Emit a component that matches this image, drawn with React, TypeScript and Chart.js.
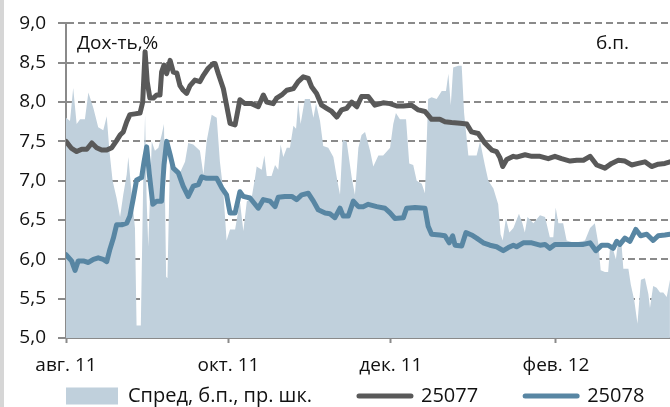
import { useEffect, useRef } from "react";
import { Chart, registerables } from "chart.js";

Chart.register(...registerables);

// x values are days counted from 01.08.2011
const monthTickDays = [0, 61, 122, 184];
const monthTickLabels = ["авг. 11", "окт. 11", "дек. 11", "фев. 12"];
const lastDataDay = 226.8;
const xAxisMaxDay = 245.6;

const seriesNames = ["Спред, б.п., пр. шк.", "25077", "25078"];
const leftAxisTitle = "Дох-ть,%";
const rightAxisTitle = "б.п.";

const yieldMin = 5;
const yieldMax = 9;
const yieldStep = 0.5;
const spreadMin = 0;
const spreadMax = 200;

const days25077 = [
  0.0, 2.1, 4.0, 5.9, 7.8, 9.7, 11.5, 13.4, 15.3, 17.2,
  19.0, 20.3, 21.5, 22.8, 24.0, 25.9, 27.8, 28.8, 29.7, 30.5,
  31.5, 32.8, 34.1, 35.3, 35.9, 36.8, 37.8, 39.1, 40.3, 41.6,
  42.8, 44.0, 45.3, 46.6, 48.4, 50.3, 51.6, 53.4, 55.3, 56.0,
  57.2, 59.1, 60.3, 61.6, 63.5, 65.3, 67.2, 69.7, 72.2, 74.1,
  75.4, 77.8, 79.1, 81.0, 82.9, 85.4, 87.2, 89.1, 91.0, 92.3,
  94.1, 96.0, 97.9, 99.8, 101.7, 103.5, 105.4, 107.3, 109.2, 111.0,
  113.5, 116.0, 119.1, 121.7, 124.2, 126.7, 129.8, 132.3, 134.8, 137.3,
  140.4, 142.3, 144.8, 148.0, 150.5, 152.3, 154.8, 157.3, 159.9, 161.7,
  163.0, 164.0, 165.5, 168.0, 169.2, 172.4, 174.9, 178.0, 181.1, 183.6,
  186.1, 189.3, 191.8, 194.3, 196.8, 199.3, 202.4, 204.9, 207.4, 209.9,
  212.4, 214.9, 217.4, 219.9, 222.4, 224.9, 226.8,
];
const yield25077 = [
  7.50, 7.41, 7.37, 7.40, 7.40, 7.48, 7.42, 7.39, 7.39, 7.42,
  7.51, 7.58, 7.62, 7.75, 7.84, 7.85, 7.86, 8.00, 8.64, 8.26,
  8.05, 8.05, 8.09, 8.09, 8.38, 8.47, 8.36, 8.53, 8.38, 8.37,
  8.21, 8.15, 8.11, 8.21, 8.28, 8.26, 8.34, 8.43, 8.49, 8.49,
  8.36, 8.17, 7.96, 7.73, 7.71, 8.03, 7.98, 7.98, 7.94, 8.09,
  8.00, 7.98, 8.05, 8.09, 8.15, 8.17, 8.26, 8.32, 8.30, 8.19,
  8.11, 7.96, 7.92, 7.88, 7.81, 7.90, 7.92, 8.00, 7.94, 8.07,
  8.07, 7.96, 7.99, 7.98, 7.95, 7.95, 7.96, 7.90, 7.88, 7.78,
  7.78, 7.75, 7.74, 7.73, 7.72, 7.62, 7.60, 7.48, 7.39, 7.37,
  7.29, 7.18, 7.27, 7.31, 7.30, 7.33, 7.31, 7.31, 7.28, 7.31,
  7.28, 7.25, 7.26, 7.26, 7.31, 7.20, 7.16, 7.22, 7.26, 7.25,
  7.20, 7.22, 7.24, 7.18, 7.21, 7.22, 7.24,
];

const days25078 = [
  0.0, 2.1, 3.4, 4.6, 6.5, 8.4, 10.3, 12.1, 14.0, 15.3,
  16.5, 17.8, 19.0, 20.9, 22.8, 24.0, 25.3, 26.5, 28.4, 29.3,
  30.3, 31.3, 32.6, 34.1, 35.9, 36.8, 37.8, 39.1, 40.3, 42.2,
  44.0, 45.9, 47.8, 49.7, 51.0, 52.8, 55.3, 56.6, 58.5, 60.3,
  61.6, 63.5, 65.3, 66.6, 69.1, 72.2, 74.1, 76.6, 78.5, 79.7,
  82.2, 84.8, 86.6, 88.5, 91.0, 92.9, 94.7, 97.3, 99.1, 101.0,
  102.9, 104.1, 106.0, 107.9, 109.8, 111.6, 113.5, 116.7, 119.8, 121.7,
  123.5, 126.7, 127.9, 131.1, 134.8, 136.0, 137.3, 140.4, 142.3, 143.9,
  145.2, 146.1, 148.6, 150.2, 152.3, 154.2, 156.7, 159.2, 161.7, 164.2,
  166.1, 168.0, 169.2, 171.7, 174.9, 178.0, 179.9, 181.7, 183.6, 186.7,
  190.5, 194.3, 196.8, 199.0, 201.2, 203.5, 205.5, 206.8, 208.0, 209.9,
  211.8, 214.0, 215.8, 218.1, 220.5, 222.4, 224.9, 226.8,
];
const yield25078 = [
  6.06, 5.98, 5.86, 5.98, 5.98, 5.96, 6.00, 6.02, 6.00, 5.97,
  6.13, 6.27, 6.44, 6.44, 6.46, 6.55, 6.78, 7.01, 7.04, 7.24,
  7.43, 7.08, 6.70, 6.74, 6.74, 7.20, 7.50, 7.33, 7.16, 7.10,
  6.93, 6.80, 6.93, 6.95, 7.05, 7.03, 7.03, 7.03, 6.91, 6.82,
  6.59, 6.59, 6.86, 6.80, 6.78, 6.65, 6.76, 6.74, 6.67, 6.79,
  6.80, 6.80, 6.76, 6.82, 6.84, 6.74, 6.63, 6.59, 6.58, 6.53,
  6.65, 6.55, 6.55, 6.74, 6.67, 6.67, 6.70, 6.67, 6.65, 6.59,
  6.52, 6.53, 6.65, 6.66, 6.65, 6.42, 6.32, 6.31, 6.30, 6.21,
  6.30, 6.18, 6.17, 6.34, 6.31, 6.27, 6.21, 6.18, 6.16, 6.11,
  6.15, 6.18, 6.16, 6.21, 6.21, 6.18, 6.19, 6.14, 6.19, 6.19,
  6.19, 6.19, 6.21, 6.11, 6.18, 6.18, 6.14, 6.23, 6.19, 6.27,
  6.23, 6.38, 6.30, 6.32, 6.24, 6.30, 6.31, 6.32,
];

const daysSpread = [
  0.0, 1.5, 2.7, 4.0, 5.3, 7.1, 8.4, 10.3, 12.1, 14.0,
  15.3, 16.3, 17.5, 19.0, 20.3, 21.5, 22.8, 23.4, 24.7, 25.9,
  26.5, 28.1, 29.0, 29.7, 30.3, 30.9, 32.2, 33.4, 34.7, 35.9,
  36.8, 37.6, 38.1, 39.1, 40.9, 42.8, 44.7, 45.9, 47.8, 50.3,
  51.6, 52.8, 54.7, 56.6, 57.8, 59.1, 60.3, 61.6, 63.5, 65.3,
  66.6, 67.9, 69.7, 71.0, 71.6, 73.5, 74.5, 75.4, 77.2, 78.5,
  79.7, 80.6, 81.6, 82.9, 84.1, 85.4, 86.4, 87.2, 88.1, 89.7,
  91.6, 92.9, 93.9, 95.4, 96.6, 98.5, 100.4, 101.9, 102.9, 103.9,
  105.4, 107.3, 108.5, 109.8, 111.0, 112.3, 114.2, 115.4, 117.3, 119.1,
  121.7, 122.9, 123.9, 125.4, 127.7, 128.9, 130.4, 131.7, 133.6, 134.8,
  136.0, 137.3, 139.2, 141.1, 142.7, 143.6, 144.5, 145.4, 147.3, 148.6,
  149.5, 151.1, 153.0, 154.2, 155.5, 157.3, 158.6, 160.5, 162.3, 163.2,
  164.0, 165.2, 166.5, 168.0, 170.1, 171.4, 172.3, 173.3, 175.5, 178.0,
  179.9, 181.7, 183.0, 183.9, 184.9, 186.7, 188.0, 189.9, 192.4, 194.9,
  196.8, 198.6, 199.9, 200.8, 202.4, 203.6, 204.3, 205.5, 206.5, 207.4,
  208.7, 209.3, 211.2, 212.1, 213.4, 214.6, 215.9, 217.4, 218.7, 219.3,
  220.5, 221.8, 223.1, 224.3, 225.6, 226.8,
];
const spreadBp = [
  140, 138, 159, 136, 139, 139, 156, 146, 134, 132,
  141, 119, 100, 89, 77, 91, 104, 115, 91, 70,
  8, 8, 100, 142, 87, 58, 125, 119, 121, 129,
  136, 39, 38, 117, 108, 105, 112, 124, 123, 119,
  104, 125, 142, 140, 112, 93, 62, 69, 69, 87,
  68, 87, 89, 102, 109, 107, 116, 103, 103, 110,
  107, 123, 115, 121, 121, 135, 133, 150, 136, 152,
  152, 140, 149, 138, 122, 121, 115, 100, 91, 126,
  125, 102, 91, 121, 129, 131, 119, 109, 116, 116,
  121, 136, 143, 139, 139, 111, 110, 100, 98, 92,
  152, 153, 152, 157, 157, 168, 148, 172, 173, 173,
  143, 116, 116, 116, 125, 110, 100, 95, 85, 66,
  62, 76, 67, 70, 79, 73, 67, 77, 73, 78,
  77, 64, 64, 83, 73, 73, 62, 61, 61, 62,
  70, 73, 60, 43, 42, 42, 58, 56, 50, 62,
  58, 44, 44, 34, 24, 9, 37, 38, 28, 19,
  33, 32, 29, 29, 26, 37,
];

const toPoints = (xs: number[], ys: number[]) => xs.map((x, i) => ({ x, y: ys[i] }));

const FONT = "Open Sans";
const TEXT_COLOR = "#111111";
const AXIS_GREY = "#8a8a8a";
const SPREAD_FILL = "#c0d0dc";
const LINE_DARK = "#595959";
const LINE_BLUE = "#5886a3";

// the canvas is wider/taller than the 670x407 window; the overflow is cropped
const CANVAS_W = 720;
const CANVAS_H = 455;

const titlesPlugin = {
  id: "insideTitles",
  afterDatasetsDraw(chart: any) {
    const { ctx, chartArea } = chart;
    const endX = chart.scales.x.getPixelForValue(lastDataDay);
    ctx.save();
    ctx.font = `19px "${FONT}"`;
    ctx.fillStyle = TEXT_COLOR;
    ctx.textAlign = "left";
    ctx.textBaseline = "alphabetic";
    ctx.fillText(leftAxisTitle, chartArea.left + 11, chartArea.top + 26);
    ctx.fillText(rightAxisTitle, endX - 74, chartArea.top + 26);
    ctx.restore();
  },
};

// pulls the legend row up so it sits right under the month labels
const legendPlacePlugin = {
  id: "legendPlace",
  afterLayout(chart: any) {
    const lg = chart.legend;
    const xs = chart.scales.x;
    if (lg && xs) lg.top = xs.top + 1;
  },
};

export default function App() {
  const canvasRef = useRef<HTMLCanvasElement | null>(null);

  useEffect(() => {
    document.body.style.margin = "0";
    document.body.style.overflow = "hidden";
    document.documentElement.style.overflow = "hidden";
    const canvas = canvasRef.current;
    if (!canvas) return;
    Chart.defaults.font.family = FONT;

    const chart = new Chart(canvas, {
      type: "line",
      data: {
        datasets: [
          {
            label: seriesNames[0],
            data: toPoints(daysSpread, spreadBp),
            yAxisID: "y2",
            fill: "origin",
            backgroundColor: SPREAD_FILL,
            borderColor: "rgba(0,0,0,0)",
            borderWidth: 0,
            pointRadius: 0,
            pointStyle: "rect",
            pointBackgroundColor: SPREAD_FILL,
            pointBorderWidth: 0,
            tension: 0,
            order: 3,
          },
          {
            label: seriesNames[1],
            data: toPoints(days25077, yield25077),
            yAxisID: "y",
            fill: false,
            borderColor: LINE_DARK,
            backgroundColor: LINE_DARK,
            borderWidth: 5,
            borderJoinStyle: "round",
            borderCapStyle: "round",
            pointRadius: 0,
            pointStyle: "line",
            pointBorderColor: LINE_DARK,
            pointBorderWidth: 5,
            tension: 0,
            order: 2,
          },
          {
            label: seriesNames[2],
            data: toPoints(days25078, yield25078),
            yAxisID: "y",
            fill: false,
            borderColor: LINE_BLUE,
            backgroundColor: LINE_BLUE,
            borderWidth: 5,
            borderJoinStyle: "round",
            borderCapStyle: "round",
            pointRadius: 0,
            pointStyle: "line",
            pointBorderColor: LINE_BLUE,
            pointBorderWidth: 5,
            tension: 0,
            order: 1,
          },
        ] as any,
      },
      options: {
        animation: false,
        responsive: false,
        maintainAspectRatio: false,
        events: [],
        layout: { padding: { top: 21, left: 19, right: 0, bottom: 0 } },
        scales: {
          x: {
            type: "linear",
            min: 0,
            max: xAxisMaxDay,
            afterBuildTicks: (scale: any) => {
              scale.ticks = monthTickDays.map((value) => ({ value }));
            },
            afterFit: (scale: any) => {
              scale.height = 40;
            },
            ticks: {
              autoSkip: false,
              maxRotation: 0,
              padding: 11,
              color: TEXT_COLOR,
              font: { family: FONT, size: 19 },
              callback: (v: any) => {
                const i = monthTickDays.indexOf(Number(v));
                return i >= 0 ? monthTickLabels[i] : "";
              },
            },
            grid: {
              drawOnChartArea: false,
              tickLength: 5,
              tickColor: AXIS_GREY,
              tickWidth: 2,
            },
            border: { color: AXIS_GREY, width: 2 },
          },
          y: {
            position: "left",
            min: yieldMin,
            max: yieldMax,
            afterFit: (scale: any) => {
              scale.width = 47;
            },
            ticks: {
              stepSize: yieldStep,
              padding: 12,
              color: TEXT_COLOR,
              font: { family: FONT, size: 19 },
              callback: (v: any) => Number(v).toFixed(1).replace(".", ","),
            },
            grid: {
              color: AXIS_GREY,
              lineWidth: 2,
              tickLength: 8,
              tickColor: AXIS_GREY,
              tickWidth: 2,
              tickBorderDash: [],
            } as any,
            border: { color: AXIS_GREY, width: 2, dash: [7, 4] },
          },
          y2: {
            display: false,
            position: "right",
            min: spreadMin,
            max: spreadMax,
          },
        },
        plugins: {
          tooltip: { enabled: false },
          legend: {
            position: "bottom",
            align: "start",
            labels: {
              usePointStyle: true,
              pointStyleWidth: 52,
              boxHeight: 17,
              padding: 47,
              color: TEXT_COLOR,
              font: { family: FONT, size: 20 },
              sort: (a: any, b: any) => a.datasetIndex - b.datasetIndex,
              generateLabels: (c: any) =>
                (Chart.defaults.plugins.legend.labels as any)
                  .generateLabels(c)
                  .map((l: any) => ({
                    ...l,
                    lineCap: l.pointStyle === "line" ? "round" : "butt",
                  })),
            },
          },
        },
      } as any,
      plugins: [titlesPlugin, legendPlacePlugin],
    });
    return () => chart.destroy();
  }, []);

  return (
    <div style={{ position: "relative", width: CANVAS_W, height: CANVAS_H, background: "#ffffff" }}>
      <canvas ref={canvasRef} width={CANVAS_W} height={CANVAS_H} style={{ display: "block" }} />
      <div
        style={{
          position: "absolute",
          left: 0,
          top: 0,
          width: 4,
          height: "100%",
          background: "#d6d6d6",
        }}
      />
    </div>
  );
}
